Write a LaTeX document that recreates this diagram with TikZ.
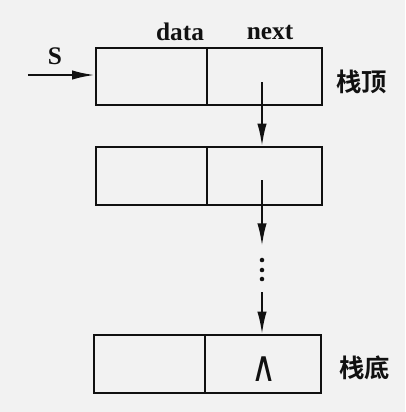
\documentclass[tikz,border=0pt]{standalone}
\usepackage{fontspec}
\setmainfont{Liberation Serif}
\newfontfamily\cjk{Noto Sans CJK SC}[BoldFont={* Bold}]
\newfontfamily\symf{DejaVu Sans}
\usetikzlibrary{arrows.meta}
\definecolor{bg}{HTML}{F2F2F2}
\definecolor{ink}{HTML}{111111}
\begin{document}
\begin{tikzpicture}[x=0.75pt,y=-0.75pt,
  cell/.style={draw=ink,line width=1.6pt,inner sep=0pt,minimum height=43pt},
  dcell/.style={cell,minimum width=83.5pt},
  ncell/.style={cell,minimum width=86.5pt},
  ptr/.style={draw=ink,line width=1.6pt,-{Latex[length=17pt,width=7pt]}},
  lbl/.style={font=\fontsize{19}{21}\selectfont\bfseries,text=ink,inner sep=0pt},
  zh/.style={font=\cjk\fontsize{19}{21}\selectfont\bfseries,text=ink,inner sep=0pt}]
\fill[bg] (0,0) rectangle (405,412);
\useasboundingbox (0,0) rectangle (405,412);
% box 1
\node[dcell] (d1) at (151.5,76.5) {};
\node[ncell] (n1) at (264.5,76.5) {};
% box 2
\node[dcell] (d2) at (151.5,176) {};
\node[ncell] (n2) at (264.5,176) {};
% box 3
\node[dcell] (d3) at (149.5,364) {};
\node[ncell] (n3) at (263,364) {};
% labels
\node[lbl] (ldata) at (180,32) {data};
\node[lbl] (lnext) at (270,32) {next};
\node[lbl] (lS) at (55,56) {S};
\node[zh] (top) at (362,82) {栈顶};
\node[zh] (bot) at (365,368) {栈底};
\node[inner sep=0pt,text=ink,xscale=0.8] (nil) at (264,369) {\symf\fontsize{32}{32}\selectfont ∧};
% pointers
\coordinate (sS) at (28,75);
\draw[ptr] (sS) -- (d1.west |- sS);
\coordinate (p1) at (262,82);
\draw[ptr] (p1) -- (p1 |- n2.north);
\coordinate (p2) at (262,180);
\coordinate (p2e) at (262,246);
\draw[ptr] (p2) -- (p2e);
\foreach \yy in {260,270,279} \fill[ink] (262,\yy) circle (1.7pt);
\coordinate (p3) at (262,292);
\draw[ptr] (p3) -- (p3 |- n3.north);
\end{tikzpicture}
\end{document}
